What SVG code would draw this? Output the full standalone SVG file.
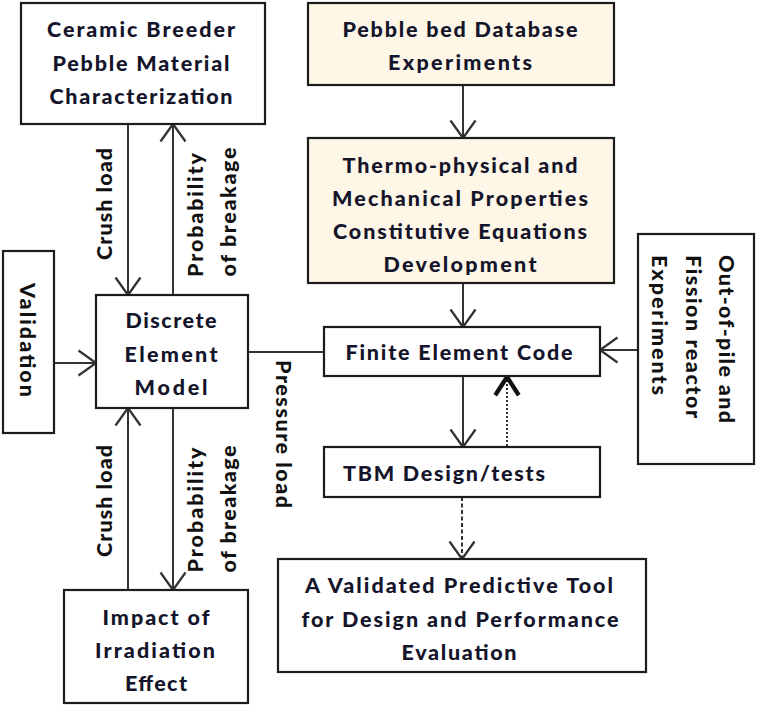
<svg xmlns="http://www.w3.org/2000/svg" width="758" height="708" viewBox="0 0 758 708">
<style>
.box{fill:#fff;stroke:#1c1c1c;stroke-width:2.2}
.cream{fill:#FEF7E7}
.t{font-family:Lato,"Liberation Sans",sans-serif;font-weight:900;font-size:21.5px;fill:#14142a;text-anchor:middle}
.lbl{font-family:Lato,"Liberation Sans",sans-serif;font-weight:900;font-size:21.5px;fill:#111}
.c{fill:none;stroke:#333;stroke-width:2}
</style>
<defs>
<marker id="arr" markerUnits="userSpaceOnUse" markerWidth="30" markerHeight="30" viewBox="-16 -12 20 24" refX="0" refY="0" orient="auto" overflow="visible">
<path d="M-14,-10 L0,0 L-14,10" fill="none" stroke="#333" stroke-width="1.8"/>
</marker>
<marker id="arrb" markerUnits="userSpaceOnUse" markerWidth="30" markerHeight="30" viewBox="-20 -14 24 28" refX="0" refY="0" orient="auto" overflow="visible">
<path d="M-17,-11 L0,0 L-17,11" fill="none" stroke="#111" stroke-width="4"/>
</marker>
</defs>
<rect width="758" height="708" fill="#fff"/>
<g id="connectors">
<path class="c" d="M128,124 L128,295" marker-end="url(#arr)"/>
<path class="c" d="M173,295 L173,124" marker-end="url(#arr)"/>
<path class="c" d="M128,590 L128,408" marker-end="url(#arr)"/>
<path class="c" d="M173,408 L173,590" marker-end="url(#arr)"/>
<path class="c" d="M52,363 L96,363" marker-end="url(#arr)"/>
<path class="c" d="M248,352 L324,352"/>
<path class="c" d="M463,85 L463,138" marker-end="url(#arr)"/>
<path class="c" d="M463,283 L463,327" marker-end="url(#arr)"/>
<path class="c" d="M638,350 L600,350" marker-end="url(#arr)"/>
<path class="c" d="M463,376 L463,447" marker-end="url(#arr)"/>
<path class="c" d="M507,450 L507,377" stroke="#222" stroke-width="3.5" stroke-dasharray="2,2" marker-end="url(#arrb)"/>
<path class="c" d="M462,497 L462,559" stroke-dasharray="4,2.5" marker-end="url(#arr)"/>
<g class="lbl">
<text transform="translate(112,204) rotate(-90)" text-anchor="middle" textLength="112">Crush load</text>
<text transform="translate(203,215) rotate(-90)" text-anchor="middle" textLength="124">Probability</text>
<text transform="translate(236,212) rotate(-90)" text-anchor="middle" textLength="129">of breakage</text>
<text transform="translate(112,501) rotate(-90)" text-anchor="middle" textLength="112">Crush load</text>
<text transform="translate(203,510) rotate(-90)" text-anchor="middle" textLength="125">Probability</text>
<text transform="translate(236,509) rotate(-90)" text-anchor="middle" textLength="127">of breakage</text>
<text transform="translate(276,434) rotate(90)" text-anchor="middle" textLength="148">Pressure load</text>
</g>
</g>
<g id="ceramic">
<rect class="box" x="21" y="3" width="244" height="121"/>
<text class="t" x="141" y="37" textLength="188">Ceramic Breeder</text>
<text class="t" x="141" y="71" textLength="177">Pebble Material</text>
<text class="t" x="141" y="104" textLength="183">Characterization</text>
</g>
<g id="pebblebed">
<rect class="box cream" x="308" y="3" width="306" height="82"/>
<text class="t" x="460" y="37" textLength="235">Pebble bed Database</text>
<text class="t" x="460" y="70" textLength="144">Experiments</text>
</g>
<g id="thermo">
<rect class="box cream" x="308" y="138" width="306" height="145"/>
<text class="t" x="460" y="173" textLength="235">Thermo-physical and</text>
<text class="t" x="460" y="206" textLength="256">Mechanical Properties</text>
<text class="t" x="460" y="239" textLength="254">Constitutive Equations</text>
<text class="t" x="460" y="272" textLength="153">Development</text>
</g>
<g id="validation">
<rect class="box" x="3" y="251" width="51" height="182"/>
<text class="lbl" transform="translate(20,340) rotate(90)" text-anchor="middle" textLength="114">Validation</text>
</g>
<g id="dem">
<rect class="box" x="96" y="295" width="152" height="113"/>
<text class="t" x="171" y="328" textLength="91">Discrete</text>
<text class="t" x="171" y="362" textLength="93">Element</text>
<text class="t" x="171" y="395" textLength="73">Model</text>
</g>
<g id="fec">
<rect class="box" x="324" y="327" width="276" height="49"/>
<text class="t" x="459" y="360" textLength="227">Finite Element Code</text>
</g>
<g id="outofpile">
<rect class="box" x="638" y="234" width="116" height="230"/>
<text class="lbl" transform="translate(719,255) rotate(90)" textLength="168">Out-of-pile and</text>
<text class="lbl" transform="translate(686,255) rotate(90)" textLength="163">Fission reactor</text>
<text class="lbl" transform="translate(652,255) rotate(90)" textLength="140">Experiments</text>
</g>
<g id="tbm">
<rect class="box" x="324" y="447" width="276" height="50"/>
<text class="t" x="444" y="481" textLength="202">TBM Design/tests</text>
</g>
<g id="validated">
<rect class="box" x="278" y="559" width="368" height="113"/>
<text class="t" x="459" y="593" textLength="308">A Validated Predictive Tool</text>
<text class="t" x="460" y="627" textLength="317">for Design and Performance</text>
<text class="t" x="459" y="660" textLength="115">Evaluation</text>
</g>
<g id="impact">
<rect class="box" x="64" y="590" width="184" height="113"/>
<text class="t" x="156" y="625" textLength="107">Impact of</text>
<text class="t" x="155" y="658" textLength="120">Irradiation</text>
<text class="t" x="156" y="691" textLength="62">Effect</text>
</g>
</svg>
